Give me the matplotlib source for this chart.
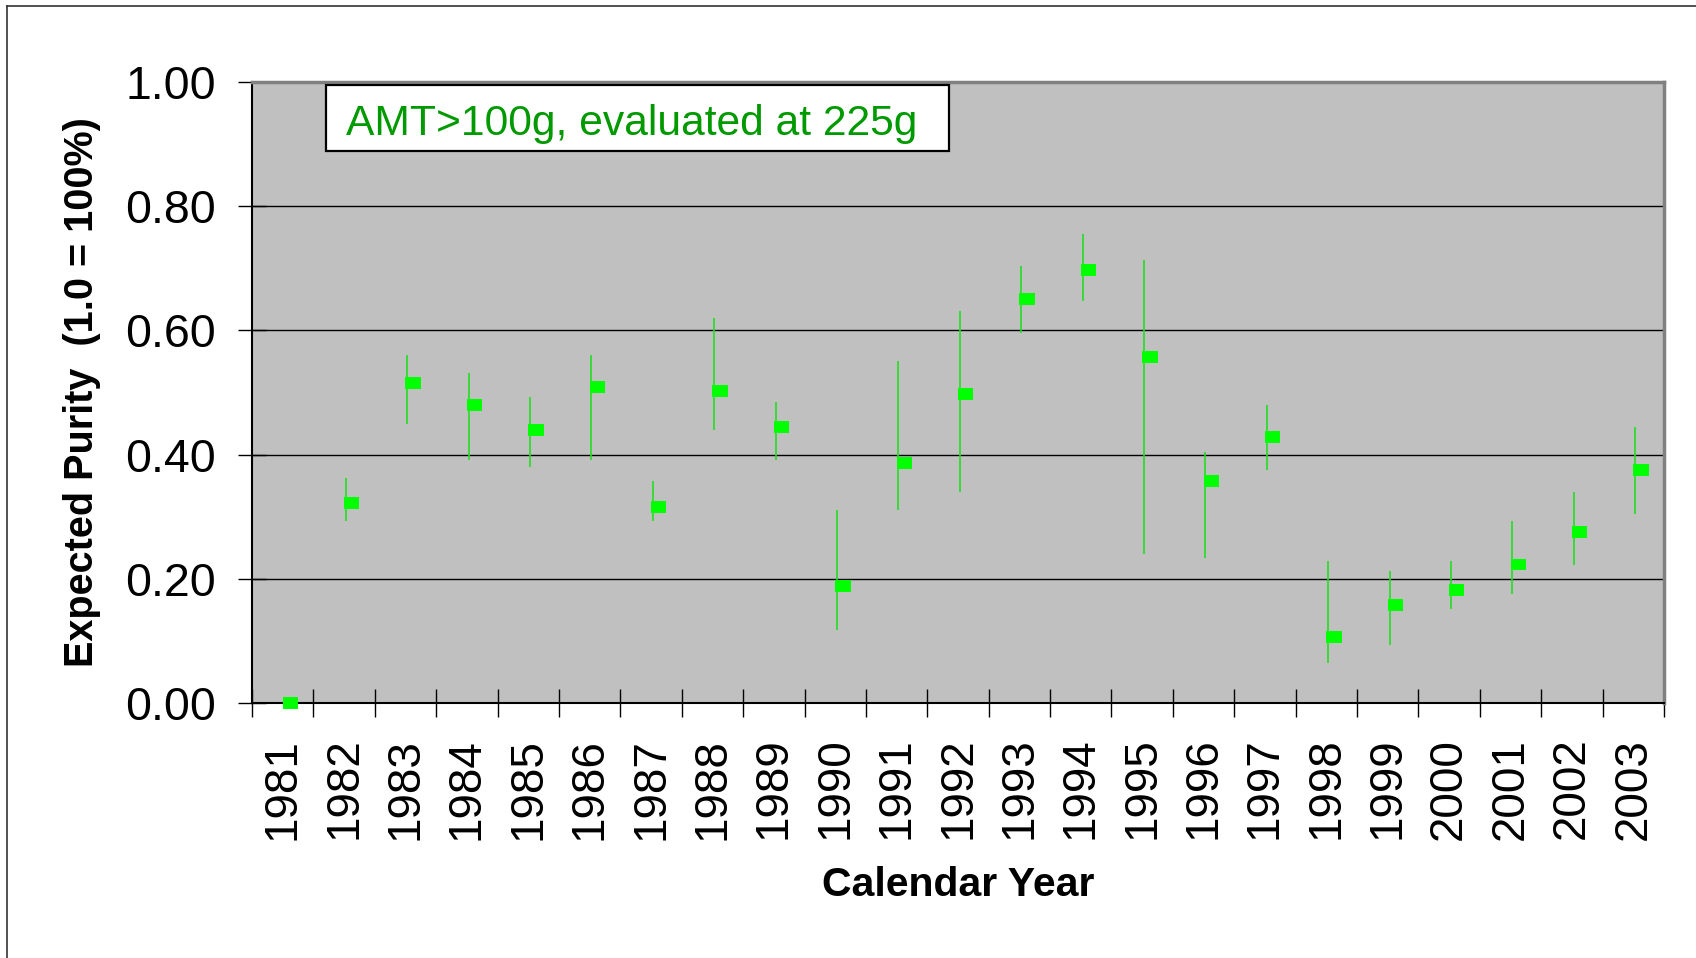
import matplotlib
matplotlib.use("Agg")
import matplotlib.pyplot as plt
from matplotlib.patches import Rectangle
from matplotlib.lines import Line2D
import numpy as np

plt.rcParams['font.family'] = ['Liberation Sans', 'DejaVu Sans']

# high / low / close per calendar year
years = [str(y) for y in range(1981, 2004)]
close_vals = [0.00, 0.322, 0.515, 0.480, 0.439, 0.509, 0.316, 0.503, 0.445, 0.188,
              0.387, 0.498, 0.650, 0.697, 0.557, 0.358, 0.428, 0.106, 0.158, 0.182,
              0.223, 0.276, 0.375]
high_vals = [0.00, 0.363, 0.561, 0.532, 0.492, 0.561, 0.357, 0.620, 0.485, 0.311,
             0.551, 0.632, 0.703, 0.756, 0.714, 0.404, 0.480, 0.229, 0.212, 0.229,
             0.293, 0.340, 0.445]
low_vals = [0.00, 0.293, 0.450, 0.392, 0.380, 0.392, 0.293, 0.439, 0.392, 0.117,
            0.311, 0.339, 0.596, 0.648, 0.240, 0.234, 0.375, 0.064, 0.094, 0.152,
            0.175, 0.223, 0.304]
y_ticks = [0.0, 0.2, 0.4, 0.6, 0.8, 1.0]
note = "AMT>100g, evaluated at 225g"

W, H = 1696, 958
fig = plt.figure(figsize=(W / 100, H / 100), dpi=100)
ax = fig.add_axes([252 / W, 1 - 703 / H, (1664 - 252) / W, (703 - 82) / H])
ax.set_facecolor('#c0c0c0')

n = len(years)
centers = np.arange(n) + 0.5

#----------------------------------------
# high-low lines and close ticks
ax.vlines(centers + 0.03, low_vals, high_vals, color='#22dd22', lw=1.2, zorder=3)
mk_h = 0.019
ax.bar(centers, mk_h, width=0.25, bottom=np.array(close_vals) - mk_h / 2,
       align='edge', color='#00ff00', zorder=4, clip_on=False)
#----------------------------------------

ax.set_xlim(0, n)
ax.set_ylim(0, 1.0)
ax.set_yticks(y_ticks)
ax.set_yticklabels([f"{v:.2f}" for v in y_ticks])
ax.set_xticks(np.arange(n + 1))
ax.set_xticklabels([])
ax.set_xticks(centers, minor=True)
ax.set_xticklabels(years, minor=True, rotation=90)

ax.tick_params(axis='both', which='major', direction='inout', length=20, width=1,
               color='black')
ax.tick_params(axis='y', labelsize=33.5, pad=16)
ax.tick_params(axis='x', which='minor', length=0, labelsize=33, pad=25)

ax.yaxis.grid(True, color='black', lw=1)
ax.set_axisbelow(True)

for s in ['left', 'bottom']:
    ax.spines[s].set_color('black')
    ax.spines[s].set_linewidth(1.5)
for s in ['top', 'right']:
    ax.spines[s].set_color('#808080')
    ax.spines[s].set_linewidth(2.5)

ax.set_ylabel("Expected Purity  (1.0 = 100%)", fontsize=28.5, fontweight='bold')
ax.yaxis.set_label_coords((101 - 252) / 1412, 0.5)
ax.set_xlabel("Calendar Year", fontsize=29.5, fontweight='bold')
ax.xaxis.set_label_coords(0.5, (703 - 866) / 621)

# note box
bx0, bx1 = (325.5 - 252) / 1412, (949 - 252) / 1412
by0, by1 = (703 - 150.5) / 621, (703 - 85) / 621
ax.add_patch(Rectangle((bx0, by0), bx1 - bx0, by1 - by0, transform=ax.transAxes,
                       facecolor='white', edgecolor='black', lw=1.6, zorder=5))
ax.text((346.5 - 252) / 1412, (703 - 124) / 621, note, transform=ax.transAxes,
        fontsize=30.7, color='#009900', va='center', ha='left', zorder=6)

# outer chart frame (left and top edges only show)
fig.add_artist(Line2D([7.3 / W, 7.3 / W], [0, 1 - 6 / H], color='#333333', lw=1.2))
fig.add_artist(Line2D([7.3 / W, 1], [1 - 6 / H, 1 - 6 / H], color='#333333', lw=1.2))

fig.savefig("out.png", dpi=100)
